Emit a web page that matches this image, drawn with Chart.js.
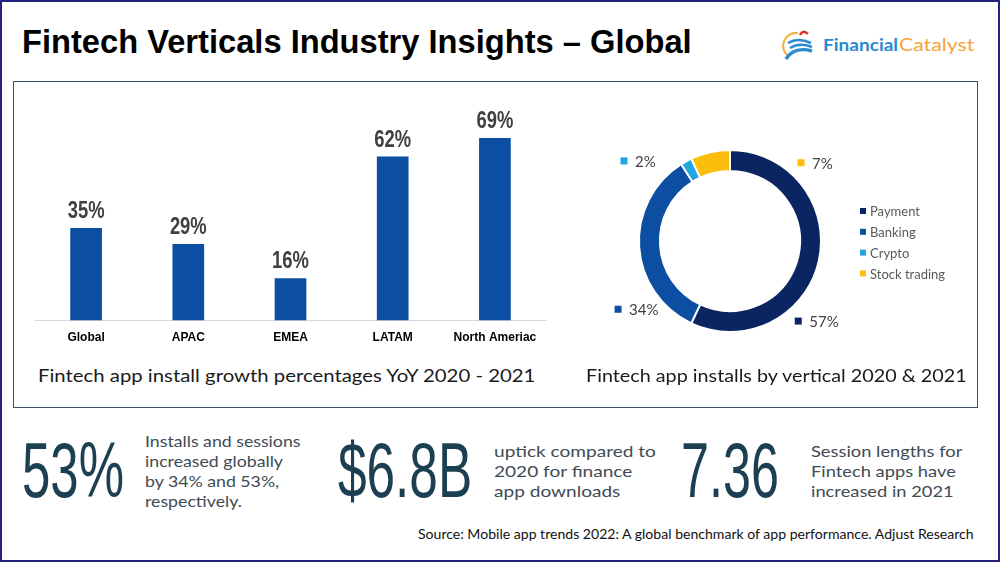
<!DOCTYPE html>
<html><head><meta charset="utf-8">
<script src="https://cdn.jsdelivr.net/npm/chart.js@4.4.1/dist/chart.umd.min.js"></script>
<style>
html,body{margin:0;padding:0;background:#fff;}
#page{position:relative;width:1000px;height:562px;overflow:hidden;background:#fff;}
#frame{position:absolute;left:0;top:0;width:996px;height:558px;border:2px solid #23237e;}
#panel{position:absolute;left:13px;top:81px;width:963px;height:325px;border:1.5px solid #3d5066;}
.t{position:absolute;white-space:pre;transform-origin:0 0;}
.bm{display:inline-block;width:0;height:0;vertical-align:baseline;}
canvas{position:absolute;}
</style></head><body>
<div id="page">
<div id="frame"></div>
<div id="panel"></div>
<svg style="position:absolute;left:781px;top:28px" width="36" height="34" viewBox="0 0 36 34">
 <path d="M17 5 A13 13 0 0 0 7 28" stroke="#f5b347" stroke-width="2.2" fill="none"/>
 <path d="M19 7 Q22 1 27 6" stroke="#d9342b" stroke-width="2.4" fill="none"/>
 <path d="M7 15 Q17 9 30 15" stroke="#2a8ad0" stroke-width="2.6" fill="none"/>
 <path d="M9 20 Q19 14 31 19" stroke="#2a8ad0" stroke-width="2.6" fill="none"/>
 <path d="M5 31 Q13 18 31 23" stroke="#2a8ad0" stroke-width="3.4" fill="none"/>
</svg>
<canvas id="bar" width="540" height="270" style="left:20px;top:90px"></canvas>
<canvas id="donut" width="400" height="282" style="left:580px;top:100px"></canvas>
</div>
<script>
// ---- data ----
const barCategories = ['Global', 'APAC', 'EMEA', 'LATAM', 'North Ameriac'];
const barValues = [35, 29, 16, 62, 69];
const yAxisMax = 80;
const verticalLabels = ['Payment', 'Banking', 'Crypto', 'Stock trading'];
const verticalShares = [57, 34, 2, 7];
const verticalColors = ['#0b2562', '#0b4ea2', '#22a6e0', '#fbbf0b'];
// donut label anchors, in units of the outer radius from the centre (style)
const labelOffsets = [[0.75, 0.88], [-1.23, 0.75], [-1.165, -0.88], [0.78, -0.86]];

// ---- static texts ----
const texts = [
 {t:'Fintech Verticals Industry Insights \u2013 Global', x:22, b:53, w:670, f:'bold 33px "Liberation Sans Narrow","Liberation Sans",sans-serif', c:'#000'},
 {t:'Financial', x:823, b:51, w:75, f:'bold 17px Lato,sans-serif', c:'#2a8ad0'},
 {t:'Catalyst', x:899, b:51, w:75, f:'17px Lato,sans-serif', c:'#f5a33a'},
 {t:'Fintech app install growth percentages YoY 2020 - 2021', x:38, b:382, w:497, f:'18px Lato,sans-serif', c:'#1a1a1a'},
 {t:'Fintech app installs by vertical 2020 & 2021', x:586, b:382, w:381, f:'18px Lato,sans-serif', c:'#1a1a1a'},
 {t:'53%', x:22, b:497, w:102, f:'77px "Liberation Sans Narrow",sans-serif', c:'#1c3f52'},
 {t:'Installs and sessions\nincreased globally\nby 34% and 53%,\nrespectively.', x:145, b:447, w:155, f:'16px Lato,sans-serif', c:'#404b55', lh:20},
 {t:'$6.8B', x:338, b:497, w:134, f:'77px "Liberation Sans Narrow",sans-serif', c:'#1c3f52'},
 {t:'uptick compared to\n2020 for finance\napp downloads', x:494, b:457, w:162, f:'16px Lato,sans-serif', c:'#404b55', lh:20},
 {t:'7.36', x:681, b:497, w:98, f:'77px "Liberation Sans Narrow",sans-serif', c:'#1c3f52'},
 {t:'Session lengths for\nFintech apps have\nincreased in 2021', x:811, b:457, w:151, f:'16px Lato,sans-serif', c:'#404b55', lh:20},
 {t:'Source: Mobile app trends 2022: A global benchmark of app performance. Adjust Research', x:418, b:539, w:556, f:'13px Lato,sans-serif', c:'#111'}
];
const page = document.getElementById('page');
texts.forEach(o => {
  const d = document.createElement('div');
  d.className = 't';
  d.style.font = o.f;
  d.style.color = o.c;
  d.style.lineHeight = (o.lh || Math.round(parseFloat(o.f.match(/(\d+)px/)[1]) * 1.2)) + 'px';
  d.style.left = o.x + 'px';
  d.style.top = '0px';
  const m = document.createElement('span'); m.className = 'bm';
  d.appendChild(m);
  d.appendChild(document.createTextNode(o.t));
  page.appendChild(d);
  const base = m.offsetTop;
  d.style.top = (o.b - base) + 'px';
  const w = d.scrollWidth;
  d.style.transform = 'scaleX(' + (o.w / w) + ')';
});

// ---- bar chart ----
const barLabels = {
  id: 'barLabels',
  afterDatasetsDraw(chart) {
    const ctx = chart.ctx, meta = chart.getDatasetMeta(0);
    ctx.save();
    ctx.font = 'bold 23px "Liberation Sans",Arial,sans-serif';
    ctx.fillStyle = '#404040';
    ctx.textAlign = 'center';
    ctx.textBaseline = 'alphabetic';
    meta.data.forEach((el, i) => {
      ctx.save();
      ctx.translate(el.x, el.y - 10);
      ctx.scale(0.8, 1);
      ctx.fillText(chart.data.datasets[0].data[i] + '%', 0, 0);
      ctx.restore();
    });
    ctx.restore();
  }
};
new Chart(document.getElementById('bar'), {
  type: 'bar',
  data: {labels: barCategories, datasets: [{data: barValues, backgroundColor: '#0b4ea2', categoryPercentage: 1, barPercentage: 0.31}]},
  options: {
    responsive: false, animation: false, events: [],
    layout: {padding: {left: 15, right: 14, top: 19, bottom: 5}},
    plugins: {legend: {display: false}, tooltip: {enabled: false}},
    scales: {
      x: {grid: {display: false, drawTicks: false}, border: {display: true, color: '#d9d9d9', width: 1},
          ticks: {color: '#000', padding: 10, font: {family: '"Liberation Sans",Arial,sans-serif', weight: 'bold', size: 12}}},
      y: {display: false, min: 0, max: yAxisMax}
    }
  },
  plugins: [barLabels]
});

// ---- donut ----
const donutDecor = {
  id: 'donutDecor',
  afterDatasetsDraw(chart) {
    const ctx = chart.ctx, meta = chart.getDatasetMeta(0), arc0 = meta.data[0];
    const cx = arc0.x, cy = arc0.y, r = arc0.outerRadius;
    const ds = chart.data.datasets[0];
    ctx.save();
    ctx.textBaseline = 'middle';
    ctx.textAlign = 'left';
    ctx.font = '15px Lato,"DejaVu Sans",sans-serif';
    ds.data.forEach((v, i) => {
      const px = cx + labelOffsets[i][0] * r, py = cy + labelOffsets[i][1] * r;
      ctx.fillStyle = ds.backgroundColor[i];
      ctx.fillRect(px - 3.5, py - 3.5, 7, 7);
      ctx.fillStyle = '#404040';
      ctx.fillText(v + '%', px + 11, py + 1);
    });
    // legend
    ctx.font = '13px Lato,"DejaVu Sans",sans-serif';
    chart.data.labels.forEach((l, i) => {
      const lx = cx + 133, ly = cy - 30 + i * 20.8;
      ctx.fillStyle = ds.backgroundColor[i];
      ctx.fillRect(lx - 3, ly - 3, 6, 6);
      ctx.fillStyle = '#595959';
      ctx.fillText(l, lx + 7, ly + 1);
    });
    ctx.restore();
  }
};
new Chart(document.getElementById('donut'), {
  type: 'doughnut',
  data: {labels: verticalLabels, datasets: [{data: verticalShares, backgroundColor: verticalColors, borderColor: '#ffffff', borderWidth: 2, hoverOffset: 0}]},
  options: {
    responsive: false, animation: false, events: [], cutout: '77%',
    layout: {padding: {left: 30, right: 130, top: 49, bottom: 49}},
    plugins: {legend: {display: false}, tooltip: {enabled: false}}
  },
  plugins: [donutDecor]
});
</script>
</body></html>
